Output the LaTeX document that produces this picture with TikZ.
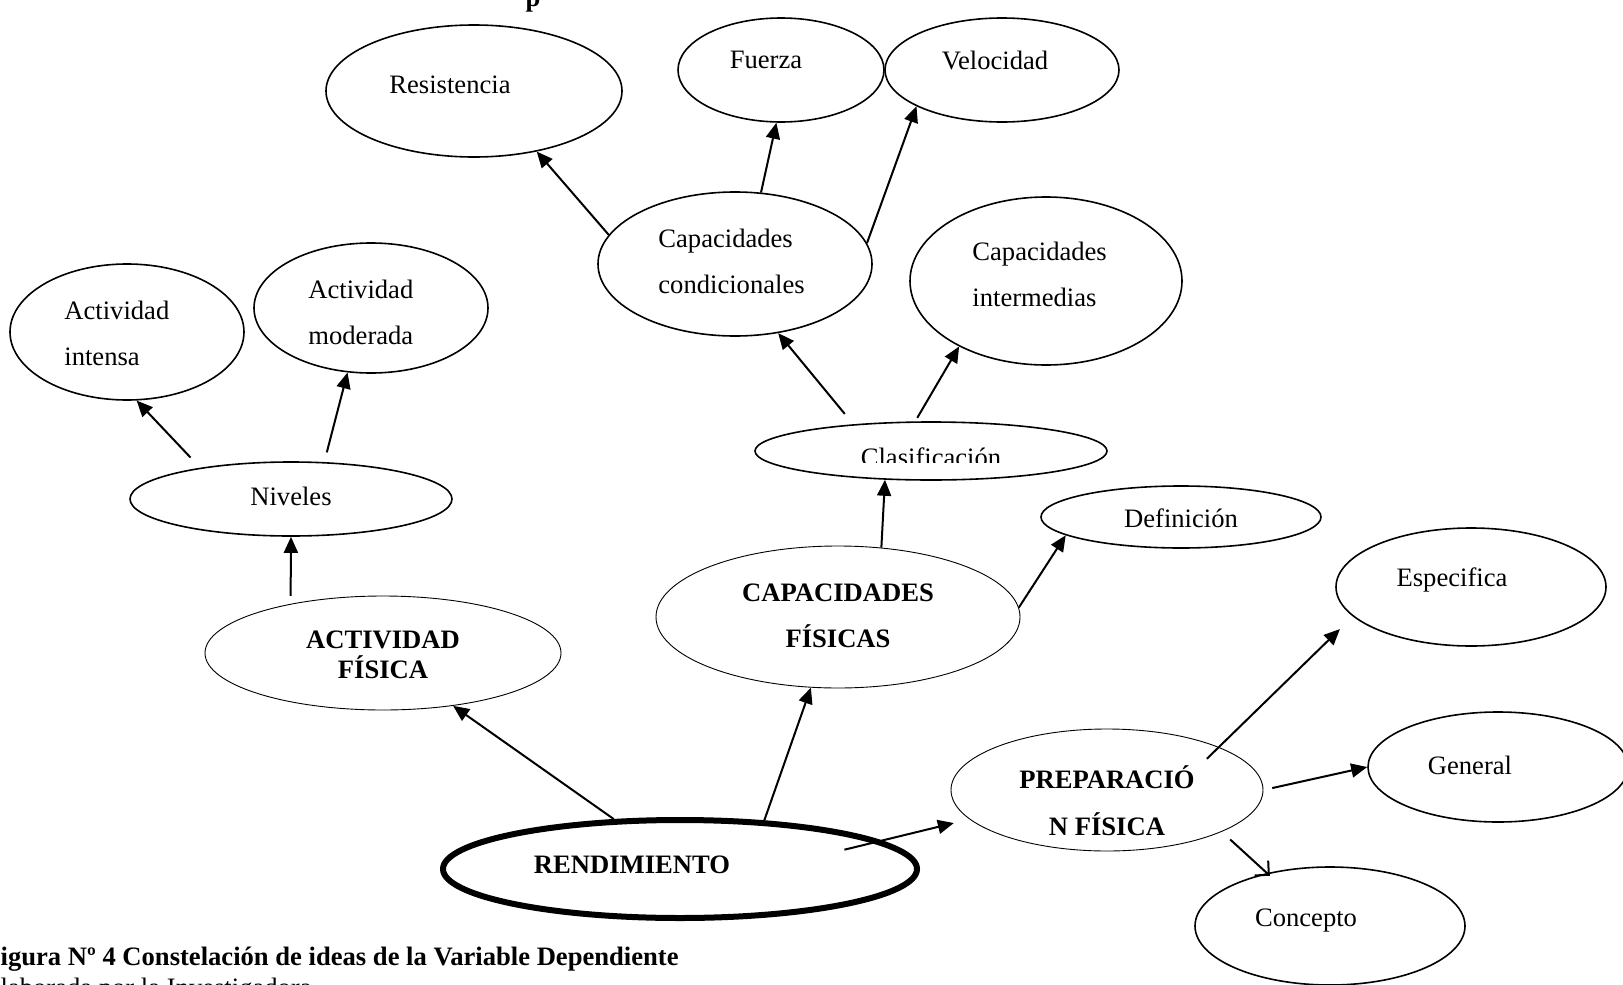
\documentclass[tikz,border=0pt]{standalone}
\usepackage{fontspec}
\setmainfont{Liberation Serif}
\usetikzlibrary{arrows.meta,shapes.geometric}
\begin{document}
\begin{tikzpicture}[x=0.5pt,y=-0.5pt,
  el/.style={draw, ellipse, line width=0.8pt, inner sep=0pt},
  elthin/.style={el, line width=0.45pt},
  txt/.style={font=\fontsize{13.3pt}{23pt}\selectfont, inner sep=0pt, align=left},
  btxt/.style={inner sep=0pt, align=center, font=\fontsize{13.3pt}{23pt}\selectfont\bfseries},
  arr/.style={-{Triangle[length=8pt,width=7pt]}, line width=1pt},
  barb/.style={-{Straight Barb[length=5pt,width=10pt,line width=1pt]}, line width=1pt},
]
\useasboundingbox (0,0) rectangle (1623,985);
\clip (0,0) rectangle (1623,985);

% ellipses
\node[el, minimum width=148pt, minimum height=66pt] (res) at (474,91) {};
\node[el, minimum width=103pt, minimum height=52pt] (fue) at (781,70) {};
\node[el, minimum width=117pt, minimum height=52pt] (vel) at (1002,70) {};
\node[el, minimum width=137pt, minimum height=72pt] (cc) at (735,264) {};
\node[el, minimum width=136pt, minimum height=84pt] (ci) at (1046,281) {};
\node[el, minimum width=117pt, minimum height=68pt] (ai) at (127,332) {};
\node[el, minimum width=117pt, minimum height=65pt] (am) at (371,308) {};
\node[el, minimum width=176pt, minimum height=29pt] (cla) at (931,451) {};
\node[el, minimum width=161pt, minimum height=37pt] (niv) at (291,499) {};
\node[el, minimum width=140pt, minimum height=31pt] (def) at (1181,517) {};
\node[el, minimum width=135pt, minimum height=59pt] (esp) at (1471,587) {};
\node[elthin, minimum width=182pt, minimum height=71pt] (cf) at (838,617) {};
\node[elthin, minimum width=178pt, minimum height=57pt] (af) at (383,653) {};
\node[el, minimum width=130pt, minimum height=55pt] (gen) at (1498,767) {};
\node[elthin, minimum width=156pt, minimum height=61pt] (pf) at (1107,790) {};
\node[el, line width=3pt, minimum width=237pt, minimum height=49pt] (ren) at (680,869) {};
\node[el, minimum width=135pt, minimum height=59pt] (con) at (1330,926) {};

% texts
\node[txt] (res-t) at (450,85) {Resistencia};
\node[txt] (fue-t) at (766,60) {Fuerza};
\node[txt] (vel-t) at (995,60) {Velocidad};
\node[txt, anchor=west] (cc-t) at (658,261) {Capacidades\\condicionales};
\node[txt, anchor=west] (ci-t) at (972,274) {Capacidades\\intermedias};
\node[txt, anchor=west] (ai-t) at (64,333) {Actividad\\intensa};
\node[txt, anchor=west] (am-t) at (308,312) {Actividad\\moderada};
\begin{scope}
\clip (700,380) rectangle (1150,462);
\node[txt, anchor=base] (cla-t) at (931,466) {Clasificación};
\end{scope}
\node[txt] (niv-t) at (291,496) {Niveles};
\node[txt] (def-t) at (1181,518) {Definición};
\node[txt] (esp-t) at (1452,580) {Especifica};
\node[btxt] (cf-t) at (838,616) {CAPACIDADES\\FÍSICAS};
\node[btxt, font=\fontsize{13.3pt}{15pt}\selectfont\bfseries] (af-t) at (383,655) {ACTIVIDAD\\FÍSICA};
\node[txt] (gen-t) at (1470,765) {General};
\node[btxt, font=\fontsize{13.3pt}{23.5pt}\selectfont\bfseries] (pf-t) at (1107,801) {PREPARACIÓ\\N FÍSICA};
\node[btxt] (ren-t) at (632,865) {RENDIMIENTO};
\node[txt] (con-t) at (1306,921) {Concepto};

% top fragment and caption
\node[inner sep=0pt, anchor=base, font=\fontsize{13.3pt}{16pt}\selectfont\bfseries] (tp) at (533,6) {p};
\node[inner sep=0pt, anchor=base west, font=\fontsize{13.3pt}{16pt}\selectfont\bfseries] (cap) at (-16,965) {Figura Nº 4 Constelación de ideas de la Variable Dependiente};
\node[inner sep=0pt, anchor=base west, font=\fontsize{13.3pt}{16pt}\selectfont] (cap2) at (-16,996) {Elaborada por la Investigadora};

% connectors
\draw[arr] (cc.167.8) -- (res.-44);
\draw[arr] (cc.70.4) -- (fue.-95);
\draw[arr] (cc.9.7) -- (vel.203);
\draw[arr, shorten <=6.7pt] (cla.161.3) -- (cc.-58);
\draw[arr, shorten <=2pt] (cla.118.7) -- (ci.217);
\draw[arr, shorten <=7pt] (niv.161) -- (ai.-82);
\draw[arr, shorten <=5pt] (niv.48.2) -- (am.-110.7);
\draw[arr, shorten <=4pt] (af.152) -- (niv.-90);
\draw[arr] (cf.58.5) -- (cla.-148);
\draw[arr] (cf.3.7) -- (def.189.2);
\draw[arr] (ren.143.4) -- (af.-37.8);
\draw[arr] (ren.30.7) -- (cf.-111);
\draw[arr, shorten <=-19pt, shorten >=8pt] (ren.8.26) -- (pf.192);
\draw[arr, shorten <=-8.4pt, shorten >=9pt] (pf.21) -- (esp.194.5);
\draw[arr, shorten <=4.5pt] (pf.0) -- (gen.180);
\draw[barb, shorten <=5.7pt, shorten >=-2pt] (pf.-20.9) -- (con.140.6);
\end{tikzpicture}
\end{document}
